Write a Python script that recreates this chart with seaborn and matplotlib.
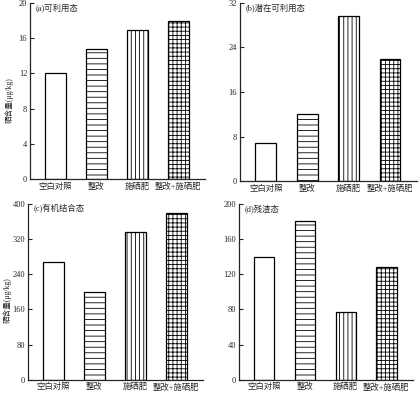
import pandas as pd
import matplotlib.pyplot as plt
import seaborn as sns

# data
categories = ['空白对照', '整改', '施硒肥', '整改+施硒肥']
available = [12.0, 14.8, 16.9, 17.9]
potential = [6.9, 12.0, 29.6, 21.9]
organic = [267, 199, 336, 379]
residual = [140, 181, 77, 128]

titles = ['(a)可利用态', '(b)潜在可利用态', '(c)有机结合态', '(d)残渣态']
ylims = [(0, 20), (0, 32), (0, 400), (0, 200)]
yticks = [[0, 4, 8, 12, 16, 20], [0, 8, 16, 24, 32],
          [0, 80, 160, 240, 320, 400], [0, 40, 80, 120, 160, 200]]
hatches = ['', '---', '||||', '++++']
ylabel = '硒含量(μg/kg)'

sns.set_style('ticks')
plt.rcParams['font.family'] = ['Liberation Serif', 'Noto Sans CJK SC']
plt.rcParams['hatch.linewidth'] = 0.6
plt.rcParams['axes.unicode_minus'] = False

fig = plt.figure(figsize=(4.19, 3.93), dpi=100)
positions = [
    [0.0716, 0.5445, 0.4177, 0.4480],
    [0.5728, 0.5394, 0.4224, 0.4530],
    [0.0668, 0.0340, 0.4177, 0.4470],
    [0.5704, 0.0340, 0.4150, 0.4470],
]
series = [available, potential, organic, residual]

for i, vals in enumerate(series):
    ax = fig.add_axes(positions[i])
    df = pd.DataFrame({'cat': categories, 'val': vals})
    sns.barplot(data=df, x='cat', y='val', ax=ax, color='white',
                edgecolor='black', linewidth=0.9, width=0.5, saturation=1)
    for patch, h in zip(ax.patches, hatches):
        patch.set_hatch(h)
        patch.set_facecolor('white')
        patch.set_edgecolor('black')
    ax.set_xlim(-0.62, 3.65)
    ax.set_ylim(*ylims[i])
    ax.set_yticks(yticks[i])
    ax.set_xlabel('')
    if i in (0, 2):
        ax.set_ylabel(ylabel, fontsize=5.5)
        ax.yaxis.set_label_coords(-0.095, 0.45)
    else:
        ax.set_ylabel('')
    sns.despine(ax=ax)
    for sp in ax.spines.values():
        sp.set_linewidth(0.9)
    ax.tick_params(axis='y', direction='in', length=3, width=0.8,
                   labelsize=6, pad=2)
    ax.tick_params(axis='x', length=0, labelsize=6, pad=2.5)
    ax.text(0.03, 1.0, titles[i], transform=ax.transAxes, fontsize=6,
            va='top', ha='left')

fig.savefig('out.png', dpi=100)
